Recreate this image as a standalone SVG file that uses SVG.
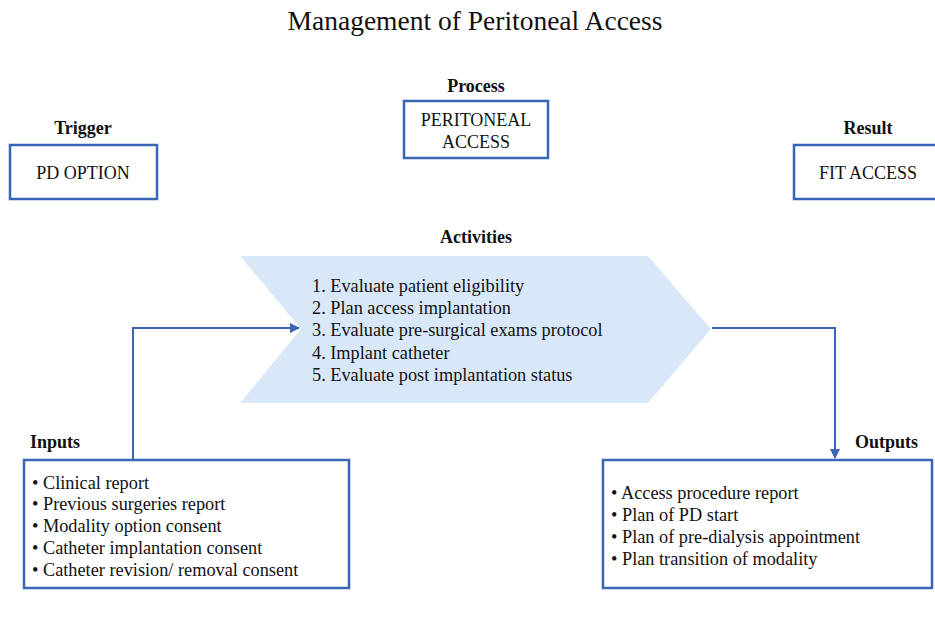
<svg xmlns="http://www.w3.org/2000/svg" width="935" height="621" viewBox="0 0 935 621">
  <defs>
    <marker id="arrow" viewBox="0 0 10 10" refX="9" refY="5" markerWidth="5" markerHeight="5" orient="auto">
      <path d="M0,0 L10,5 L0,10 z" fill="#3a66b5"/>
    </marker>
    <style>
      text { font-family: "Liberation Serif", "Times New Roman", serif; fill: #111; }
      .title { font-size: 27.5px; }
      .head { font-size: 18px; font-weight: bold; }
      .box { fill: #fff; stroke: #3a66b5; stroke-width: 2.5; }
      .label { font-size: 18px; }
      .item { font-size: 18.3px; }
      .conn { fill: none; stroke: #3a66b5; stroke-width: 2; }
    </style>
  </defs>
  <rect width="935" height="621" fill="#fff"/>

  <text class="title" x="475" y="30" text-anchor="middle">Management of Peritoneal Access</text>

  <g id="trigger">
    <text class="head" x="83" y="134" text-anchor="middle">Trigger</text>
    <rect class="box" x="10" y="145" width="147" height="54"/>
    <text class="label" x="83" y="179" text-anchor="middle">PD OPTION</text>
  </g>

  <g id="process">
    <text class="head" x="476" y="92" text-anchor="middle">Process</text>
    <rect class="box" x="404" y="101" width="144" height="57"/>
    <text class="label" x="476" y="126" text-anchor="middle">PERITONEAL</text>
    <text class="label" x="476" y="148" text-anchor="middle">ACCESS</text>
  </g>

  <g id="result">
    <text class="head" x="868" y="134" text-anchor="middle">Result</text>
    <rect class="box" x="794" y="145" width="150" height="54"/>
    <text class="label" x="868" y="179" text-anchor="middle">FIT ACCESS</text>
  </g>

  <g id="activities">
    <text class="head" x="476" y="243" text-anchor="middle">Activities</text>
    <polygon points="240,256 648,256 711,329 648,403 240,403 301,329" fill="#d9e8f8"/>
    <text class="item" x="312" y="292">1. Evaluate patient eligibility</text>
    <text class="item" x="312" y="314">2. Plan access implantation</text>
    <text class="item" x="312" y="336">3. Evaluate pre-surgical exams protocol</text>
    <text class="item" x="312" y="359">4. Implant catheter</text>
    <text class="item" x="312" y="381">5. Evaluate post implantation status</text>
  </g>

  <g id="inputs">
    <text class="head" x="30" y="448">Inputs</text>
    <rect class="box" x="24" y="460" width="325" height="128"/>
    <text class="item" x="32" y="489">• Clinical report</text>
    <text class="item" x="32" y="510">• Previous surgeries report</text>
    <text class="item" x="32" y="532">• Modality option consent</text>
    <text class="item" x="32" y="554">• Catheter implantation consent</text>
    <text class="item" x="32" y="576">• Catheter revision/ removal consent</text>
  </g>

  <g id="outputs">
    <text class="head" x="855" y="448">Outputs</text>
    <rect class="box" x="603" y="460" width="329" height="128"/>
    <text class="item" x="611" y="499">• Access procedure report</text>
    <text class="item" x="611" y="521">• Plan of PD start</text>
    <text class="item" x="611" y="543">• Plan of pre-dialysis appointment</text>
    <text class="item" x="611" y="565">• Plan transition of modality</text>
  </g>

  <g id="connectors">
    <polyline class="conn" points="133,459 133,328 299,328" marker-end="url(#arrow)"/>
    <polyline class="conn" points="712,328 835,328 835,458" marker-end="url(#arrow)"/>
  </g>
</svg>
